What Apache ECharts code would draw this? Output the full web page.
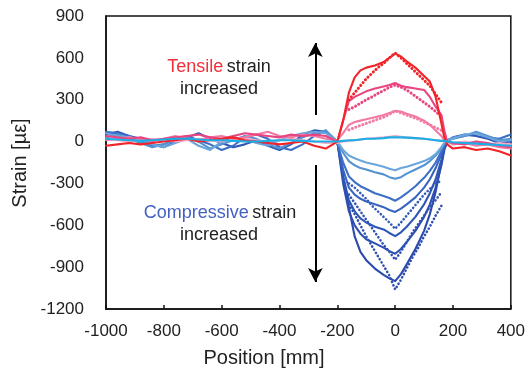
<!DOCTYPE html>
<html><head><meta charset="utf-8">
<script src="https://cdn.jsdelivr.net/npm/echarts@6/dist/echarts.min.js"></script>
<style>html,body{margin:0;padding:0;background:#fff}#c{width:528px;height:372px}</style>
</head><body><div id="c"></div>
<script>
// Positions [mm]
const posFull = [-1000,-960,-920,-880,-840,-800,-760,-720,-680,-640,-600,-560,-520,-480,-440,-400,-360,-320,-280,-240,
  -200,-180,-160,-140,-120,-100,-70,-40,-20,0,20,40,70,100,120,140,160,170,180,
  200,240,280,320,360,400];
const posHump = [-200,-180,-160,-140,-120,-100,-70,-40,-20,0,20,40,70,100,120,140,160,170,180];
const posDot = [-160,-140,-120,-100,-80,-60,-40,-20,0,20,40,60,80,100,120,140,160];

// Strain [µε] - full-range series
const redLine = [-30,-20,-10,-20,-10,0,10,20,0,10,20,30,10,0,-10,-20,-10,0,-30,-50,
  0,150,350,460,510,530,545,570,600,630,610,575,530,470,430,320,130,30,-20,
  -50,-40,-60,-50,-70,-100];
const pinkLine = [40,30,20,30,10,20,30,40,50,30,20,40,60,50,40,30,50,40,50,40,
  0,150,290,320,340,360,380,395,405,420,400,390,380,370,320,250,190,80,0,
  -10,-20,0,-10,-30,-40];
const lightPinkLine = [10,20,30,20,0,20,40,20,10,30,40,20,30,50,70,40,30,50,40,20,
  10,60,120,140,150,160,175,190,205,220,215,200,180,150,120,80,40,10,0,
  -20,-10,-30,-20,-40,-50];
const palePinkLine = [20,10,0,10,20,10,0,10,20,10,0,10,20,10,0,10,20,10,0,-10,
  -10,0,5,10,15,20,25,30,35,40,35,30,25,20,15,10,5,0,-5,
  -10,0,-10,-20,-10,-20];
const cyanLine = [20,15,10,5,10,15,20,20,15,10,10,5,0,0,5,10,10,5,0,0,
  0,5,10,10,15,20,20,25,30,30,30,28,25,20,15,10,5,5,0,
  -5,-10,-15,-20,-25,-30];
const blue1Line = [60,40,30,10,-20,-40,-10,20,-30,-60,0,30,20,-10,-30,10,40,60,70,60,
  0,-60,-100,-120,-135,-150,-165,-180,-195,-206,-190,-180,-160,-140,-120,-90,-40,-10,10,
  20,50,60,30,0,10];
const blue2Line = [30,50,20,-10,-40,-20,10,30,0,-50,-20,10,40,20,-20,-50,-10,30,60,80,
  0,-80,-140,-170,-190,-200,-220,-235,-255,-267,-255,-230,-200,-170,-140,-100,-50,-15,10,
  30,40,70,40,10,20];
const blue3Line = [70,60,40,0,-30,-20,20,40,10,-20,-60,-30,30,50,20,-40,-60,-20,40,80,
  -10,-150,-250,-290,-320,-340,-370,-390,-405,-424,-400,-370,-320,-260,-210,-150,-70,-20,10,
  20,40,60,30,20,50];
const blue5Line = [50,70,40,20,-20,-40,0,30,60,20,-10,-40,-20,10,-30,-60,-20,50,80,70,
  0,-250,-420,-500,-550,-580,-610,-630,-655,-678,-650,-610,-540,-450,-370,-270,-130,-40,0,
  30,50,40,20,-10,0];
// hump-only series
const blue4Hump = [0,-200,-330,-380,-410,-430,-450,-470,-490,-504,-480,-450,-400,-330,-270,-190,-90,-30,0];
const blue6Hump = [0,-300,-500,-600,-660,-700,-730,-760,-785,-804,-770,-720,-640,-540,-450,-330,-170,-60,0];
const blue7Hump = [0,-250,-470,-680,-790,-850,-910,-955,-980,-1000,-950,-880,-770,-640,-520,-360,-150,-50,0];
// dotted series
const redDot = [300,350,400,450,490,530,560,600,635,600,560,520,480,440,400,340,280];
const pinkDot = [230,250,275,300,320,345,365,390,405,390,370,340,310,280,250,215,180];
const lightPinkDot = [84,100,115,130,145,160,175,195,220,205,190,175,160,140,120,100,80];
const blueDotA = [-300,-330,-370,-410,-460,-500,-540,-580,-625,-580,-530,-480,-430,-380,-340,-300,-280];
const blueDotB = [-380,-440,-500,-560,-620,-680,-740,-790,-847,-790,-720,-650,-590,-530,-470,-420,-363];
const blueDotC = [-450,-520,-600,-680,-750,-820,-890,-960,-1060,-990,-910,-830,-760,-680,-610,-530,-460];

function zip(xs, ys){ return xs.map((x,i)=>[x, ys[i]]); }
function line(xs, ys, color, dotted, w){
  return {type:'line', data: zip(xs, ys), symbol:'none', smooth:false, silent:true,
    lineStyle: dotted ? {color, width: w||2.6, type:[0.1,3.6], cap:'round'} : {color, width: w||2.1, cap:'round', join:'round'}};
}

const series = [
  line(posHump, blue7Hump, '#2b4aab'),
  line(posDot, blueDotC, '#2e4fb2', true),
  line(posHump, blue6Hump, '#2d50b0'),
  line(posDot, blueDotB, '#3052b4', true),
  line(posFull, blue5Line, '#2f56b6'),
  line(posDot, blueDotA, '#3358b8', true),
  line(posHump, blue4Hump, '#3865c0'),
  line(posFull, blue3Line, '#3d6fc6'),
  line(posFull, blue2Line, '#5592d2'),
  line(posFull, blue1Line, '#6aa6dc'),
  line(posFull, palePinkLine, '#f6a8c4'),
  line(posFull, lightPinkLine, '#f27aa5'),
  line(posDot, lightPinkDot, '#f27aa5', true, 3),
  line(posFull, pinkLine, '#e94580'),
  line(posDot, pinkDot, '#e94580', true, 3),
  line(posFull, redLine, '#f2242a'),
  line(posDot, redDot, '#f2242a', true, 3),
  line(posFull, cyanLine, '#1aaee6'),
  {type:'line', data:[], silent:true,
   markLine:{silent:true, symbol:['none','arrow'], symbolSize:[11,14], label:{show:false},
     lineStyle:{color:'#000', width:2, type:'solid'},
     data:[[{coord:[-276,191]},{coord:[-276,707]}],[{coord:[-276,-168]},{coord:[-276,-1006]}]]}}
];

const chart = echarts.init(document.getElementById('c'), null, {renderer:'canvas'});
const font = 'Liberation Sans, Arial, sans-serif';
chart.setOption({
  animation:false,
  grid:{left:106, right:14, top:16, bottom:63, show:true, borderColor:'#111', borderWidth:1.5, backgroundColor:'transparent'},
  xAxis:{type:'value', min:-1000, max:400, interval:200,
    axisLine:{show:true, onZero:false, lineStyle:{color:'#111', width:1.5}},
    axisTick:{show:true, inside:true, length:4, lineStyle:{color:'#111', width:1.5}},
    splitLine:{show:false},
    axisLabel:{fontSize:17, fontFamily:font, color:'#222', margin:14, formatter:v=>String(v)}},
  yAxis:{type:'value', min:-1200, max:900, interval:300,
    axisLine:{show:true, onZero:false, lineStyle:{color:'#111', width:1.5}},
    axisTick:{show:false}, splitLine:{show:false},
    axisLabel:{fontSize:17, fontFamily:font, color:'#222', margin:22, formatter:v=>String(v)}},
  graphic:[
    {type:'text', left:'center', style:{text:'Position [mm]', font:'20px '+font, fill:'#222'}, x:0, top:348},
    {type:'text', x:20, y:163, rotation:Math.PI/2, style:{text:'Strain [µε]', font:'20px '+font, fill:'#222', textAlign:'center', textVerticalAlign:'middle'}},
    {type:'text', x:219, y:67, style:{rich:{a:{fill:'#f2303a', font:'18px '+font}, b:{fill:'#222', font:'18px '+font}}, text:'{a|Tensile} {b|strain}', textAlign:'center', textVerticalAlign:'middle'}},
    {type:'text', x:219, y:89, style:{text:'increased', font:'18px '+font, fill:'#222', textAlign:'center', textVerticalAlign:'middle'}},
    {type:'text', x:220, y:213, style:{rich:{a:{fill:'#4461c2', font:'18px '+font}, b:{fill:'#222', font:'18px '+font}}, text:'{a|Compressive} {b|strain}', textAlign:'center', textVerticalAlign:'middle'}},
    {type:'text', x:219, y:235, style:{text:'increased', font:'18px '+font, fill:'#222', textAlign:'center', textVerticalAlign:'middle'}}
  ],
  series
});
</script></body></html>
